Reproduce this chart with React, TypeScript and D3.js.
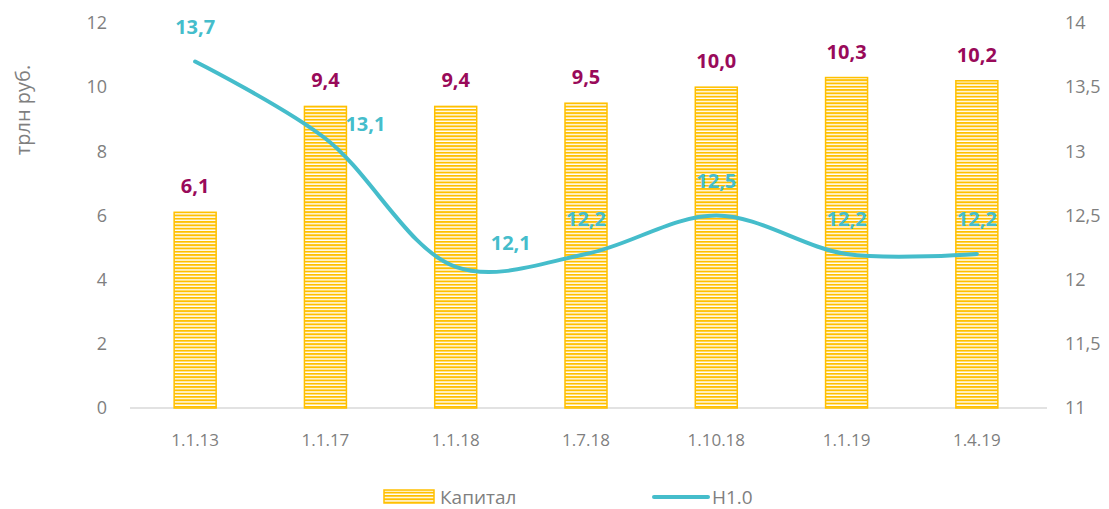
import React from "react";
import * as d3 from "d3";

const categories = ["1.1.13", "1.1.17", "1.1.18", "1.7.18", "1.10.18", "1.1.19", "1.4.19"];
const capital = [6.1, 9.4, 9.4, 9.5, 10.0, 10.3, 10.2];
const h10 = [13.7, 13.1, 12.1, 12.2, 12.5, 12.2, 12.2];
const h10LabelPos = ["above", "right", "rightAbove", "above", "above", "above", "above"];
const leftTicks = [0, 2, 4, 6, 8, 10, 12];
const rightTicks = [11, 11.5, 12, 12.5, 13, 13.5, 14];

const W = 1109;
const H = 509;
const margin = { left: 130, right: 67, top: 23, bottom: 101 };
const gold = "#FFC000";
const teal = "#45BDCB";
const plum = "#990A5A";
const grey = "#7F7F7F";
const font = "'Open Sans', sans-serif";

const fmt = (v: number) => String(v).replace(".", ",");

export default function App() {
  const x = d3
    .scaleBand()
    .domain(categories)
    .range([margin.left, W - margin.right]);
  const yL = d3.scaleLinear().domain([0, 12]).range([H - margin.bottom, margin.top]);
  const yR = d3.scaleLinear().domain([11, 14]).range([H - margin.bottom, margin.top]);
  const barW = 42;
  const cx = (c: string) => (x(c) as number) + x.bandwidth() / 2;

  const line = d3
    .line<number>()
    .x((_, i) => cx(categories[i]))
    .y((d) => yR(d))
    .curve(d3.curveCatmullRom.alpha(0.5));

  // label offset relative to the point
  const labelOffset = (pos: string): [number, number] => {
    if (pos === "right") return [40, -15];
    if (pos === "rightAbove") return [55, -24];
    return [0, -35];
  };

  return (
    <svg width={W} height={H} style={{ position: "absolute", left: 0, top: 0 }} fontFamily={font}>
      <defs>
        <pattern id="stripes" width="6" height="3.3" patternUnits="userSpaceOnUse">
          <rect width="6" height="3.3" fill="#fff" />
          <rect width="6" height="1.9" fill={gold} />
        </pattern>
      </defs>
      <rect width={W} height={H} fill="#fff" />

      {/* axes */}
      <line x1={margin.left} x2={W - margin.right + 5} y1={yL(0)} y2={yL(0)} stroke="#D9D9D9" strokeWidth={1.5} />
      {leftTicks.map((t) => (
        <text key={"l" + t} x={107} y={yL(t)} dy="0.35em" textAnchor="end" fontSize={18} fill={grey}>
          {t}
        </text>
      ))}
      {rightTicks.map((t) => (
        <text key={"r" + t} x={1065} y={yR(t)} dy="0.35em" textAnchor="start" fontSize={18} fill={grey}>
          {fmt(t)}
        </text>
      ))}
      <text transform="translate(30,110) rotate(-90)" textAnchor="middle" fontSize={20} fill={grey}>
        трлн руб.
      </text>
      {categories.map((c) => (
        <text key={c} x={cx(c)} y={440} dy="0.35em" textAnchor="middle" fontSize={17} fill={grey}>
          {c}
        </text>
      ))}

      {/* bars */}
      {categories.map((c, i) => (
        <g key={"b" + c}>
          <rect
            x={cx(c) - barW / 2}
            y={yL(capital[i])}
            width={barW}
            height={yL(0) - yL(capital[i])}
            fill="url(#stripes)"
            stroke={gold}
            strokeWidth={1.5}
          />
          <text x={cx(c)} y={yL(capital[i]) - 26} dy="0.35em" textAnchor="middle" fontSize={20} fontWeight={700} fill={plum}>
            {capital[i].toFixed(1).replace(".", ",")}
          </text>
        </g>
      ))}

      {/* line */}
      <path d={line(h10) as string} fill="none" stroke={teal} strokeWidth={4} strokeLinecap="round" />
      {categories.map((c, i) => {
        const [dx, dy] = labelOffset(h10LabelPos[i]);
        return (
          <text key={"h" + c} x={cx(c) + dx} y={yR(h10[i]) + dy} dy="0.35em" textAnchor="middle" fontSize={20} fontWeight={700} fill={teal}>
            {fmt(h10[i])}
          </text>
        );
      })}

      {/* legend */}
      <rect x={384} y={490} width={50} height={13} fill="url(#stripes)" stroke={gold} strokeWidth={1.5} />
      <text x={440} y={497} dy="0.35em" fontSize={19} fill={grey}>
        Капитал
      </text>
      <line x1={654} x2={708} y1={497} y2={497} stroke={teal} strokeWidth={4} strokeLinecap="round" />
      <text x={712} y={497} dy="0.35em" fontSize={19} fill={grey}>
        H1.0
      </text>
    </svg>
  );
}
